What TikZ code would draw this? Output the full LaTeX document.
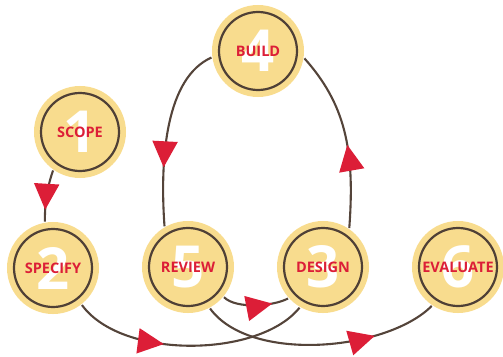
\documentclass[tikz,border=0pt]{standalone}
\usepackage{fontspec}
\setmainfont{Open Sans}
\usetikzlibrary{arrows.meta,decorations.markings}
\definecolor{disc}{HTML}{F8DC8E}
\definecolor{ring}{HTML}{4F4036}
\definecolor{trail}{HTML}{54443A}
\definecolor{arrowred}{HTML}{DC1E37}

\begin{document}
\begin{tikzpicture}[x=1pt,y=-1pt,
  stage/.style={circle,minimum size=78pt,inner sep=0pt,outer sep=8pt,
    fill=disc,draw=ring,line width=2.2pt,preaction={draw=disc,line width=14pt},
    text=white,font=\fontsize{58}{58}\selectfont\bfseries,
    label={[text=arrowred,font=\fontsize{14.5}{14.5}\selectfont\bfseries]center:#1}},
  link/.style={draw=trail,line width=2.1pt,postaction={decorate},
    decoration={markings,mark=at position #1 with {\arrow{Triangle[length=26pt,width=25pt,color=arrowred]}}}}]
\useasboundingbox (0,0) rectangle (503,356);
\node[stage=SCOPE] (n1) at (80,132) {1};
\node[stage=SPECIFY] (n2) at (53,268) {2};
\node[stage=DESIGN] (n3) at (323,267) {3};
\node[stage=BUILD] (n4) at (258,51) {4};
\node[stage=REVIEW] (n5) at (188,267) {5};
\node[stage=EVALUATE] (n6) at (458,267) {6};
\draw[link=0.77] (n1.-125) .. controls +(-7,20) and +(0,-15) .. (n2.100);
\draw[link=0.39] (n2.-52) .. controls +(40,55) and +(-40,50) .. (n3.-120);
\draw[link=0.75] (n5.-40) .. controls +(12,12) and +(-15,8) .. (n3.-138);
\draw[link=0.73] (n5.-62) .. controls +(40,55) and +(-45,45) .. (n6.-124);
\draw[link=0.46] (n3.56) .. controls +(6,-80) and +(40,45) .. (n4.-9);
\draw[link=0.68] (n4.-172) .. controls +(-45,20) and +(-5,-70) .. (n5.120);
\end{tikzpicture}
\end{document}
